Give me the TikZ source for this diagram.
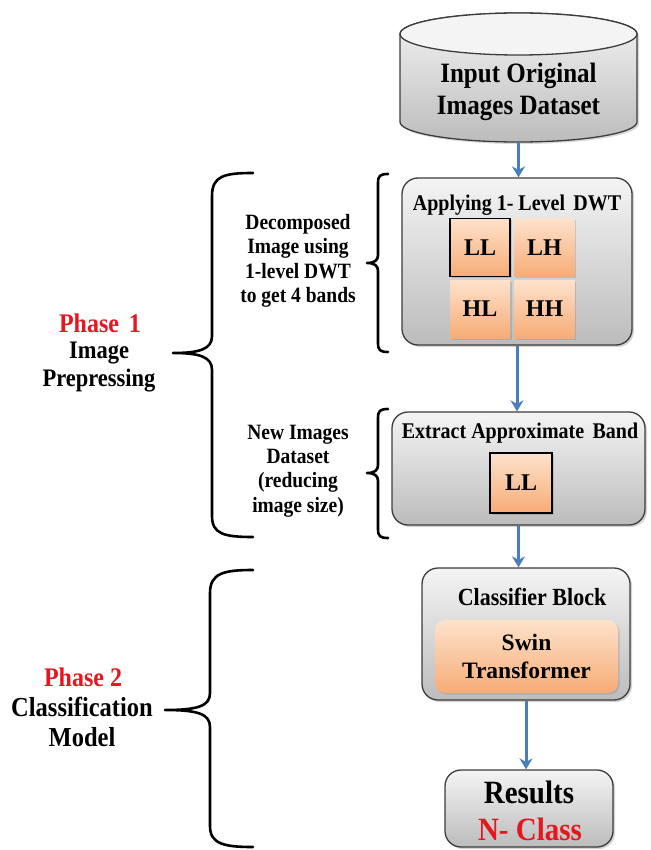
\documentclass[tikz,border=0pt]{standalone}
\usepackage{fontspec}
\setmainfont{Liberation Serif}
\usetikzlibrary{arrows.meta,shadows}
\definecolor{boxtop}{RGB}{244,244,244}
\definecolor{boxbot}{RGB}{188,188,188}
\definecolor{bordr}{RGB}{60,60,60}
\definecolor{ortop}{RGB}{253,226,204}
\definecolor{orbot}{RGB}{247,172,118}
\definecolor{phred}{RGB}{230,22,30}
\definecolor{arblue}{RGB}{74,126,187}
\newcommand{\fs}[1]{\fontsize{#1}{1.12\dimexpr #1pt\relax}\selectfont\bfseries}
\tikzset{
  graybox/.style={draw=bordr, line width=1.3pt, rounded corners=16pt, top color=boxtop, bottom color=boxbot,
    drop shadow={opacity=0.35, shadow xshift=2pt, shadow yshift=-2pt}},
  band/.style={top color=ortop, bottom color=orbot, minimum width=60pt, minimum height=58pt, inner sep=0pt,
    font=\fs{24}, drop shadow={opacity=0.3, shadow xshift=1.5pt, shadow yshift=-1.5pt}},
  bandsel/.style={band, draw=black, line width=1.2pt},
  txt/.style={align=center, inner sep=0pt, font=\fs{20}, yscale=1.12, transform shape},
  flow/.style={draw=arblue, line width=3pt, -{Stealth[length=11pt,width=13pt]}},
  brace/.style={draw=black, line width=2.6pt, line cap=round, line join=round},
}
\begin{document}
\begin{tikzpicture}[x=1pt,y=-1pt]
\useasboundingbox (0,0) rectangle (650,850);

% cylinder
\path[top color=boxtop, bottom color=boxbot, draw=bordr, line width=1.3pt,
  drop shadow={opacity=0.3, shadow xshift=2pt, shadow yshift=-2pt}]
  (400,34) -- (400,122) arc[start angle=180, end angle=360, x radius=118.5pt, y radius=20pt]
  -- (637,34) arc[start angle=0, end angle=180, x radius=118.5pt, y radius=21pt] -- cycle;
\draw[bordr, line width=1.3pt, fill=boxtop] (518.5,34) ellipse [x radius=118.5pt, y radius=21pt];
\node[txt, font=\fs{25}] (inp) at (518.5,92) {Input Original\\Images Dataset};
\coordinate (cylbot) at (518.5,142);

% box 1
\node[graybox, minimum width=230pt, minimum height=167pt] (dwt) at (517,261.5) {};
\node[txt] (dwtt) at (517,205) {Applying 1- Level\, DWT};
\node[bandsel] (ll) at (480,247.5) {LL};
\node[band] (lh) at (544.5,247.5) {LH};
\node[band] (hl) at (480,309) {HL};
\node[band] (hh) at (544.5,309) {HH};

% box 2
\node[graybox, minimum width=253pt, minimum height=113pt] (ext) at (518.5,468.5) {};
\node[txt] (extt) at (520,433) {Extract Approximate\, Band};
\node[bandsel, minimum width=62pt, minimum height=60pt] (ll2) at (521,483) {LL};

% box 3
\node[graybox, minimum width=208pt, minimum height=132pt] (cls) at (526,634) {};
\node[txt, font=\fs{22}] (clst) at (532,597) {Classifier Block};
\node[band, rounded corners=10pt, minimum width=183pt, minimum height=73pt, align=center,
  font=\fs{23.5}] (swin) at (526.5,656.5) {Swin\\[1pt]Transformer};

% results
\node[graybox, minimum width=168pt, minimum height=77pt] (res) at (529,808.5) {};
\node[txt, font=\fs{29}] (rest) at (529,792) {Results};
\node[txt, font=\fs{29}, text=phred] (resn) at (530,829) {N- Class};

% arrows
\draw[flow] (cylbot) -- (cylbot |- dwt.north);
\draw[flow] (dwt.south) -- (dwt.south |- ext.north);
\draw[flow] (ext.south) -- (ext.south |- cls.north);
\draw[flow] (cls.south) -- (cls.south |- res.north);

% left texts
\node[txt, font=\fs{19.5}, align=center] (dec) at (298,261) {Decomposed\\Image using\\1-level DWT\\to get 4 bands};
\node[txt, font=\fs{19.5}, align=center] (newi) at (298,471) {New Images\\Dataset\\(reducing\\image size)};
\node[txt, font=\fs{24}, text=phred] (ph1) at (100,323) {Phase\, 1};
\node[txt, font=\fs{22.5}] (ph1b) at (99,367) {Image\\Prepressing};
\node[txt, font=\fs{24}, text=phred] (ph2) at (83,677) {Phase 2};
\node[txt, font=\fs{24.5}] (ph2b) at (82,722) {Classification\\Model};

% big brace phase 1
\draw[brace] (253,173) .. controls (224,173) and (212,176) .. (212,196) -- (212,336)
  .. controls (212,349) and (200,353) .. (173,353)
  .. controls (200,353) and (212,357) .. (212,370) -- (212,516)
  .. controls (212,534) and (224,537) .. (253,537);
% big brace phase 2
\draw[brace] (253,570) .. controls (224,570) and (210,573) .. (210,593) -- (210,693)
  .. controls (210,706) and (198,710) .. (165,710)
  .. controls (198,710) and (210,714) .. (210,727) -- (210,826)
  .. controls (210,844) and (224,847) .. (253,847);
% small braces
\draw[brace] (388,174) .. controls (380,174) and (378,176) .. (378,183) -- (378,255)
  .. controls (378,260) and (375,263) .. (367,263)
  .. controls (375,263) and (378,266) .. (378,271) -- (378,343)
  .. controls (378,350) and (380,352) .. (388,352);
\draw[brace] (388,409) .. controls (380,409) and (378,411) .. (378,418) -- (378,465)
  .. controls (378,470) and (375,473) .. (367,473)
  .. controls (375,473) and (378,476) .. (378,481) -- (378,529)
  .. controls (378,536) and (380,538) .. (388,538);
\end{tikzpicture}
\end{document}
